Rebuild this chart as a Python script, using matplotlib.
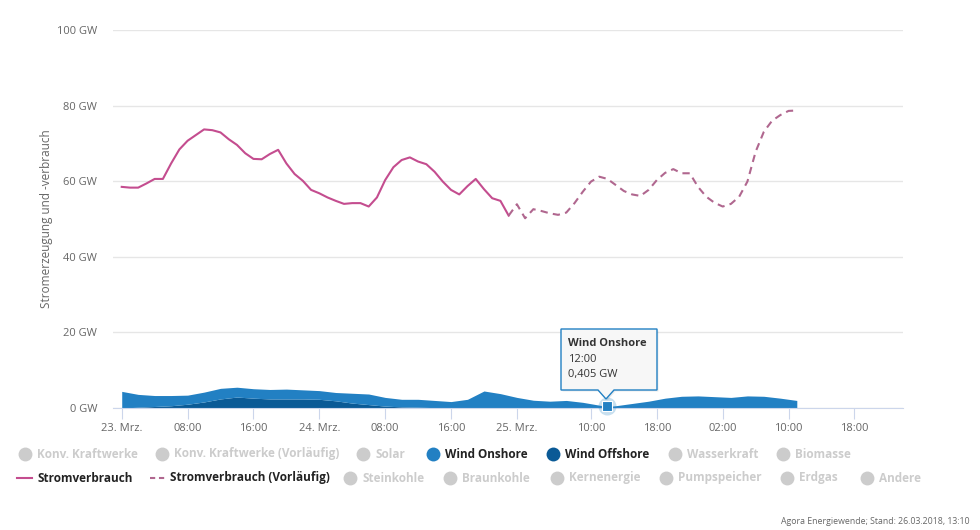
import matplotlib
matplotlib.use("Agg")
import matplotlib.pyplot as plt
from matplotlib.lines import Line2D
from matplotlib.patches import Polygon

# hours after 23.03.2018 00:00
verbrauch = [58.5, 58.3, 58.3, 59.4, 60.6, 60.6, 64.7, 68.4, 70.7, 72.2,
             73.7, 73.5, 72.9, 71.1, 69.6, 67.4, 65.9, 65.8, 67.2, 68.3,
             64.7, 61.9, 60.1, 57.7, 56.8, 55.7, 54.8, 54.0, 54.2, 54.2,
             53.3, 55.7, 60.3, 63.7, 65.6, 66.3, 65.2, 64.5, 62.5, 59.9,
             57.7, 56.5, 58.7, 60.6, 57.9, 55.5, 54.8, 50.9]
verbrauch_vorl = [50.9, 53.9, 50.2, 52.6, 52.1, 51.5, 51.1, 51.7, 54.2, 57.2,
                  59.9, 61.2, 60.6, 59.0, 57.4, 56.5, 56.1, 57.7, 60.3, 62.2,
                  63.2, 62.1, 62.1, 58.5, 55.9, 54.3, 53.3, 54.0, 55.9, 59.9,
                  67.8, 73.1, 76.0, 77.5, 78.6, 78.7]
hours_verbrauch = list(range(0, 48))
hours_vorl = list(range(47, 83))

wind_hours = list(range(0, 59, 2)) + [59] + list(range(60, 83, 2))
wind_onshore = [4.4, 3.4, 2.9, 2.7, 2.4, 2.6, 2.8, 2.6, 2.5, 2.5,
                2.6, 2.4, 2.3, 2.2, 2.6, 2.8, 2.3, 2.0, 2.1, 1.9,
                1.6, 2.2, 4.4, 3.7, 2.7, 2.0, 1.75, 1.95, 1.45, 0.75,
                0.405,
                0.6, 1.2, 1.8, 2.6, 3.1, 3.2, 3.0, 2.8, 3.2, 3.1, 2.6, 2.0]
wind_offshore = [0.0, 0.2, 0.4, 0.6, 1.0, 1.6, 2.4, 2.9, 2.6, 2.4,
                 2.4, 2.4, 2.3, 1.9, 1.3, 0.9, 0.5, 0.3, 0.2, 0.1,
                 0.1, 0.1, 0.1, 0.1, 0.1, 0.05, 0.05, 0.05, 0.05, 0.0,
                 0.0,
                 0.0, 0.0, 0.0, 0.0, 0.0, 0.0, 0.0, 0.0, 0.0, 0.0, 0.0, 0.0]

tick_hours = [0, 8, 16, 24, 32, 40, 48, 57, 65, 73, 81, 89]
tick_labels = ["23. Mrz.", "08:00", "16:00", "24. Mrz.", "08:00", "16:00",
               "25. Mrz.", "10:00", "18:00", "02:00", "10:00", "18:00"]
y_ticks = [0, 20, 40, 60, 80, 100]

tooltip_idx = 30  # 12:00 on 25.03.

legend_row1 = ["Konv. Kraftwerke", "Konv. Kraftwerke (Vorläufig)", "Solar",
               "Wind Onshore", "Wind Offshore", "Wasserkraft", "Biomasse"]
legend_row2 = ["Stromverbrauch", "Stromverbrauch (Vorläufig)", "Steinkohle",
               "Braunkohle", "Kernenergie", "Pumpspeicher", "Erdgas", "Andere"]

c_on = "#2280c3"
c_off = "#0a5a96"
c_line = "#c44d8f"
c_line_vorl = "#b0678f"
grey = "#cccccc"
txt = "#666666"

plt.rcParams['font.family'] = ['Open Sans', 'DejaVu Sans']

W, H = 980, 530
fig = plt.figure(figsize=(W / 100, H / 100), dpi=100)


def fx(x):
    return x / W


def fy(y):
    return 1 - y / H


ax = fig.add_axes([fx(113), fy(408), fx(903) - fx(113), fy(30) - fy(408)])
ax.set_xlim(-1.06, 94.9)
ax.set_ylim(0, 100)

total = [a + b for a, b in zip(wind_onshore, wind_offshore)]
ax.fill_between(wind_hours, 0, wind_offshore, color=c_off, lw=0, zorder=2)
ax.fill_between(wind_hours, wind_offshore, total, color=c_on, lw=0, zorder=2)

ax.plot(hours_verbrauch, verbrauch, color=c_line, lw=1.5, zorder=3,
        solid_joinstyle='round')
ax.plot(hours_vorl, verbrauch_vorl, color=c_line_vorl, lw=1.5, zorder=3,
        dashes=(3.5, 2.5))

# hovered point
th = wind_hours[tooltip_idx]
tv = total[tooltip_idx]
ax.plot([th], [tv], 'o', ms=13, color=c_on, alpha=0.25, mec='none', zorder=4,
        clip_on=False)
ax.plot([th], [tv], 's', ms=7, color=c_on, mec='white', mew=0.8, zorder=5,
        clip_on=False)

ax.set_yticks(y_ticks)
ax.set_yticklabels([f"{v} GW" for v in y_ticks])
ax.set_xticks(tick_hours)
ax.set_xticklabels(tick_labels)
ax.grid(axis='y', color='#e6e6e6', lw=1)
ax.set_axisbelow(True)
for s in ['top', 'right', 'left']:
    ax.spines[s].set_visible(False)
ax.spines['bottom'].set_color('#ccd6eb')
ax.tick_params(axis='y', length=0, pad=11.5, labelsize=8, labelcolor=txt)
ax.tick_params(axis='x', length=8, color='#ccd6eb', pad=3, labelsize=8,
               labelcolor=txt)
ax.set_ylabel("Stromerzeugung und -verbrauch", fontsize=8.5, color=txt,
              labelpad=3)

# tooltip
box = [(561, 329), (657, 329), (657, 390), (614, 390), (606, 399),
       (598, 390), (561, 390)]
shadow = Polygon([(fx(x + 1.5), fy(y + 1.5)) for x, y in box],
                 closed=True, transform=fig.transFigure, fc='#000000',
                 alpha=0.08, ec='none', zorder=9)
fig.add_artist(shadow)
tip = Polygon([(fx(x), fy(y)) for x, y in box], closed=True,
              transform=fig.transFigure, fc='#f7f7f7', ec=c_on, lw=1, zorder=10)
fig.add_artist(tip)
fig.text(fx(568), fy(344), "Wind Onshore", fontsize=8, fontweight='bold',
         color='#333333', va='center', zorder=11)
fig.text(fx(568), fy(359), "12:00", fontsize=8, color='#333333', va='center',
         zorder=11)
fig.text(fx(568), fy(375), f"{wind_onshore[tooltip_idx]:.3f} GW".replace('.', ','),
         fontsize=8, color='#333333', va='center', zorder=11)

# legend
row1_x = [25, 162, 363, 433, 553, 675, 783]
for name, x in zip(legend_row1, row1_x):
    if name == "Wind Onshore":
        col, tcol = c_on, '#222222'
    elif name == "Wind Offshore":
        col, tcol = c_off, '#222222'
    else:
        col, tcol = grey, grey
    fig.add_artist(Line2D([fx(x)], [fy(454)], marker='o', ms=10, color=col,
                          mec='none', transform=fig.transFigure))
    fig.text(fx(x + 12), fy(454), name, fontsize=8.5, fontweight='bold',
             color=tcol, va='center')

row2_x = [17, 150, 350, 450, 557, 666, 787, 867]
for name, x in zip(legend_row2, row2_x):
    if name == "Stromverbrauch":
        fig.add_artist(Line2D([fx(x), fx(x + 15)], [fy(478), fy(478)],
                              color=c_line, lw=1.5, transform=fig.transFigure))
        fig.text(fx(x + 20), fy(478), name, fontsize=8.5, fontweight='bold',
                 color='#222222', va='center')
    elif name == "Stromverbrauch (Vorläufig)":
        fig.add_artist(Line2D([fx(x), fx(x + 15)], [fy(478), fy(478)],
                              color=c_line_vorl, lw=1.5, dashes=(2.5, 1.8),
                              transform=fig.transFigure))
        fig.text(fx(x + 20), fy(478), name, fontsize=8.5, fontweight='bold',
                 color='#222222', va='center')
    else:
        fig.add_artist(Line2D([fx(x)], [fy(478)], marker='o', ms=10,
                              color=grey, mec='none',
                              transform=fig.transFigure))
        fig.text(fx(x + 12), fy(478), name, fontsize=8.5, fontweight='bold',
                 color=grey, va='center')

fig.text(fx(970), fy(521), "Agora Energiewende; Stand: 26.03.2018, 13:10",
         fontsize=6.3, color=txt, ha='right', va='center')

fig.savefig("out.png", dpi=100)
